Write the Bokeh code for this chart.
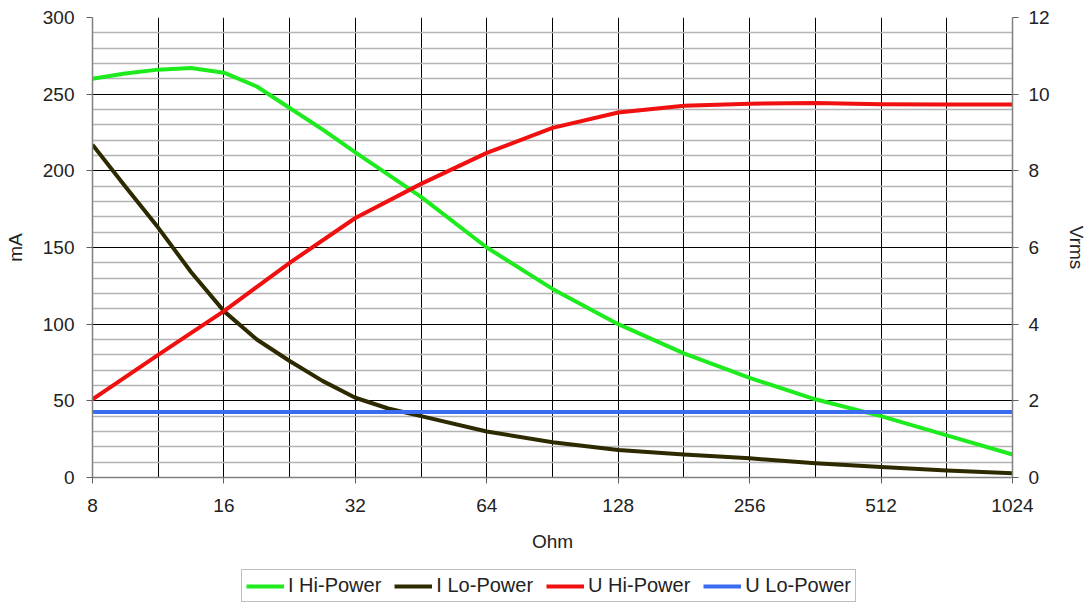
from bokeh.plotting import figure
from bokeh.layouts import column
from bokeh.models import (Range1d, LinearAxis, FixedTicker, Legend, LegendItem,
                          PrintfTickFormatter, Grid)
from bokeh.embed import file_html
from bokeh.resources import INLINE

# ---------------- data ----------------
ohm_hi = [8, 9.5, 11.31, 13.45, 16, 19.03, 22.63, 26.9, 32, 45.25, 64, 90.51, 128, 181, 256, 362, 512, 724, 1024]
i_hi = [260, 263.5, 266, 267, 264, 255, 241, 227, 212, 183, 150, 123, 100, 81, 65, 51, 40, 27.5, 15]

ohm_lo = [8, 9.5, 11.31, 13.45, 16, 19.03, 22.63, 26.9, 32, 38.05, 45.25, 64, 90.51, 128, 181, 256, 362, 512, 724, 1024]
i_lo = [217, 190, 163, 134, 108.5, 90, 76, 63, 52, 45, 40, 30, 23, 18, 15, 12.5, 9.3, 6.8, 4.6, 2.8]

ohm_u = [8, 11.31, 16, 22.63, 32, 45.25, 64, 90.51, 128, 181, 256, 362, 512, 724, 1024]
u_hi = [2.04, 3.2, 4.34, 5.6, 6.77, 7.66, 8.47, 9.12, 9.52, 9.7, 9.75, 9.77, 9.74, 9.73, 9.73]

ohm_ulo = [8, 1024]
u_lo = [1.71, 1.71]

series_names = ["I Hi-Power", "I Lo-Power", "U Hi-Power", "U Lo-Power"]
series_colors = ["#1EEB1E", "#2E2A00", "#F01010", "#3B6CF0"]

x_ticks = [8, 16, 32, 64, 128, 256, 512, 1024]
x_grid = [8, 11.31, 16, 22.63, 32, 45.25, 64, 90.51, 128, 181.02, 256, 362.04, 512, 724.08, 1024]
y_ticks = [0, 50, 100, 150, 200, 250, 300]
y_minor = [10, 20, 30, 40, 60, 70, 80, 90, 110, 120, 130, 140, 160, 170, 180, 190,
           210, 220, 230, 240, 260, 270, 280, 290]
y2_ticks = [0, 2, 4, 6, 8, 10, 12]

FONT = "Liberation Sans"

p = figure(width=1092, height=566, x_axis_type="log", output_backend="svg",
           toolbar_location=None, x_range=Range1d(8, 1024), y_range=Range1d(0, 300),
           min_border_left=92, min_border_right=80, min_border_top=17, min_border_bottom=89)
p.extra_y_ranges = {"v": Range1d(0, 12)}
p.outline_line_color = None
p.background_fill_color = "white"

# grids
p.xgrid.ticker = FixedTicker(ticks=x_grid)
p.xgrid.grid_line_color = "#000000"
p.xgrid.grid_line_width = 1
p.ygrid.visible = False
minor = Grid(dimension=1, ticker=FixedTicker(ticks=y_minor), grid_line_color="#b4b4b4", grid_line_width=1.5)
major = Grid(dimension=1, ticker=FixedTicker(ticks=y_ticks), grid_line_color="#000000", grid_line_width=1)
p.add_layout(minor)
p.add_layout(major)

# x axis
xa = p.xaxis[0]
xa.ticker = FixedTicker(ticks=x_ticks)
xa.formatter = PrintfTickFormatter(format="%d")
xa.axis_label = "Ohm"

# y axis
ya = p.yaxis[0]
ya.ticker = FixedTicker(ticks=y_ticks)
ya.axis_label = "mA"

ra = LinearAxis(y_range_name="v", ticker=FixedTicker(ticks=y2_ticks), axis_label="Vrms")
p.add_layout(ra, "right")

for ax in [xa, ya, ra]:
    ax.axis_line_color = "#808080"
    ax.axis_line_width = 1.5
    ax.major_tick_line_color = "#606060"
    ax.major_tick_out = 6
    ax.major_tick_in = 0
    ax.minor_tick_line_color = None
    ax.major_label_text_font = FONT
    ax.major_label_text_font_size = "19px"
    ax.major_label_text_color = "#222222"
    ax.axis_label_text_font = FONT
    ax.axis_label_text_font_size = "19px"
    ax.axis_label_text_font_style = "normal"
    ax.axis_label_text_color = "#222222"

xa.major_label_standoff = 15
xa.axis_label_standoff = 16
ya.major_label_standoff = 12
ya.axis_label_standoff = 14
ra.major_label_standoff = 10
ra.axis_label_standoff = 13

# lines
r1 = p.line(ohm_hi, i_hi, line_color=series_colors[0], line_width=4, line_join="round")
r2 = p.line(ohm_lo, i_lo, line_color=series_colors[1], line_width=4, line_join="round")
r3 = p.line(ohm_u, u_hi, line_color=series_colors[2], line_width=4, line_join="round", y_range_name="v")
r4 = p.line(ohm_ulo, u_lo, line_color=series_colors[3], line_width=4, y_range_name="v")

# legend strip below the chart (its lines lie outside its own ranges, only the legend shows)
lg = figure(width=1092, height=38, output_backend="svg", toolbar_location=None,
            x_axis_location=None, y_axis_location=None,
            x_range=Range1d(-3, -2), y_range=Range1d(-3, -2),
            min_border_left=0, min_border_right=0, min_border_top=0, min_border_bottom=0)
lg.outline_line_color = None
lg.xgrid.visible = False
lg.ygrid.visible = False
items = []
for name, col, xs, ys in zip(series_names, series_colors,
                             [ohm_hi, ohm_lo, ohm_u, ohm_ulo], [i_hi, i_lo, u_hi, u_lo]):
    rr = lg.line(xs, ys, line_color=col, line_width=4)
    items.append(LegendItem(label=name, renderers=[rr]))

legend = Legend(items=items, orientation="horizontal", location=(149, 2),
                label_text_font=FONT, label_text_font_size="20px", label_text_color="#222222",
                glyph_width=38, glyph_height=18, label_standoff=4, spacing=13,
                padding=4, margin=0, border_line_color="#808080", border_line_width=1.5,
                label_height=18)
lg.add_layout(legend, "center")

open("out.html", "w").write(file_html(column(p, lg, spacing=0), INLINE))
